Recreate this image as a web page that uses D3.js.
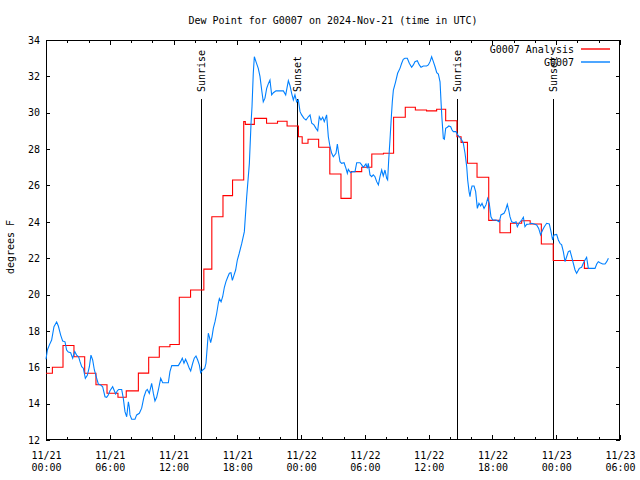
<!DOCTYPE html>
<html>
<head>
<meta charset="utf-8">
<script src="https://cdn.jsdelivr.net/npm/d3@7"></script>
<style>
  html, body { margin: 0; padding: 0; background: #fff; }
  svg { display: block; }
  text { font-family: "DejaVu Sans Mono", "Liberation Mono", monospace; font-size: 10px; fill: #000; }
</style>
</head>
<body>
<svg id="chart" width="640" height="480"></svg>
<script>
// ---------- DATA ----------
const chartTitle = "Dew Point for G0007 on 2024-Nov-21 (time in UTC)";
const yLabel = "degrees F";
const seriesNames = ["G0007 Analysis", "G0007"];
const seriesColors = ["#ff0000", "#0080ff"];

// hours since 11/21 00:00 UTC
const xTickHours = [0, 6, 12, 18, 24, 30, 36, 42, 48, 54];
const xTickDates = ["11/21", "11/21", "11/21", "11/21", "11/22", "11/22", "11/22", "11/22", "11/23", "11/23"];
const xTickTimes = ["00:00", "06:00", "12:00", "18:00", "00:00", "06:00", "12:00", "18:00", "00:00", "06:00"];
const yTicks = [12, 14, 16, 18, 20, 22, 24, 26, 28, 30, 32, 34];

const sunHours = [14.58, 23.64, 38.69, 47.72];
const sunLabels = ["Sunrise", "Sunset", "Sunrise", "Sunset"];

// Analysis (step values: value holds from hour until next hour)
const anaHours = [0.00, 0.60, 1.60, 2.63, 3.64, 4.70, 5.74, 6.77, 7.55, 8.69, 9.66, 10.66, 11.66,
  12.54, 13.60, 14.85, 15.60, 16.65, 17.55, 18.60, 18.75, 19.60, 20.75, 21.78, 22.68, 23.75,
  24.10, 24.65, 25.65, 26.70, 27.75, 28.70, 29.70, 30.65, 31.75, 32.70, 33.80, 34.75, 35.80,
  36.75, 37.60, 38.66, 39.05, 39.65, 40.55, 41.65, 42.70, 43.70, 44.75, 45.55, 46.60, 47.72,
  50.65, 51.00];
const anaValues = [15.67, 16.00, 17.20, 16.58, 15.67, 15.04, 14.57, 14.35, 14.70, 15.68, 16.55, 17.13, 17.25,
  19.85, 20.25, 21.40, 24.28, 25.44, 26.30, 29.51, 29.36, 29.69, 29.42, 29.53, 29.27, 28.68,
  28.32, 28.54, 28.10, 26.63, 25.29, 26.76, 27.00, 27.73, 27.77, 29.75, 30.30, 30.15, 30.10,
  30.19, 29.56, 28.68, 28.37, 27.22, 26.45, 24.08, 23.40, 23.92, 24.06, 23.88, 22.78, 21.87,
  21.44, 21.44];

// Observations
const obsHours = [0.00, 0.13, 0.31, 0.53, 0.75, 1.00, 1.16, 1.38, 1.57, 1.79, 1.94, 2.10, 2.32, 2.51, 2.70,
  2.88, 3.07, 3.20, 3.36, 3.51, 3.70, 3.89, 4.08, 4.23, 4.39, 4.55, 4.77, 4.92, 5.14, 5.33, 5.55,
  5.71, 5.86, 6.02, 6.27, 6.40, 6.55, 6.71, 6.84, 7.12, 7.27, 7.43, 7.59, 7.75, 7.84, 7.90, 8.06,
  8.37, 8.53, 8.78, 9.00, 9.22, 9.41, 9.53, 9.72, 9.94, 10.10, 10.25, 10.41, 10.57, 10.79, 10.98,
  11.51, 11.66, 11.83, 12.45, 12.67, 12.82, 12.98, 13.13, 13.30, 13.48, 13.61, 13.80, 13.95, 14.11,
  14.27, 14.43, 14.55, 14.74, 14.93, 15.05, 15.17, 15.27, 15.36, 15.49, 15.62, 15.74, 15.90, 16.06,
  16.21, 16.31, 16.47, 16.62, 16.78, 16.93, 17.09, 17.25, 17.40, 17.53, 17.68, 17.84, 18.00, 18.16,
  18.41, 18.66, 18.88, 19.13, 19.29, 19.38, 19.50, 19.60, 19.76, 19.97, 20.13, 20.29, 20.44, 20.60,
  20.76, 20.92, 21.07, 21.23, 21.39, 21.64, 22.33, 22.55, 22.80, 22.95, 23.11, 23.27, 23.42, 23.58,
  23.74, 23.90, 24.05, 24.27, 24.46, 24.68, 24.84, 25.00, 25.21, 25.40, 25.56, 25.71, 25.87, 26.03,
  26.18, 26.40, 26.56, 26.72, 26.88, 27.03, 27.28, 27.41, 27.53, 27.66, 27.81, 28.04, 28.22, 28.35,
  28.44, 28.66, 28.85, 29.07, 29.23, 29.54, 29.70, 29.85, 30.10, 30.23, 30.32, 30.48, 30.64, 30.79,
  30.95, 31.11, 31.27, 31.42, 31.58, 31.73, 31.89, 32.05, 32.14, 32.24, 32.36, 32.49, 32.58, 32.68,
  32.89, 33.08, 33.30, 33.46, 33.61, 33.77, 33.99, 34.18, 34.40, 34.56, 34.71, 34.93, 35.12, 35.28,
  35.50, 35.81, 35.97, 36.13, 36.28, 36.44, 36.60, 36.76, 36.91, 37.07, 37.17, 37.25, 37.38, 37.48,
  37.60, 37.76, 37.89, 38.07, 38.20, 38.32, 38.57, 38.73, 38.89, 39.11, 39.26, 39.42, 39.58, 39.67,
  39.80, 39.89, 39.95, 40.08, 40.27, 40.42, 40.58, 40.73, 40.89, 41.02, 41.21, 41.39, 41.55, 41.70,
  41.86, 42.02, 42.33, 42.65, 42.80, 43.09, 43.24, 43.40, 43.53, 43.65, 43.81, 44.03, 44.22, 44.34,
  44.53, 44.75, 44.91, 45.06, 45.22, 45.47, 45.69, 45.91, 46.16, 46.35, 46.53, 46.72, 46.88, 47.10,
  47.35, 47.51, 47.66, 47.79, 48.04, 48.20, 48.35, 48.51, 48.67, 48.83, 48.98, 49.14, 49.30, 49.45,
  49.61, 49.77, 49.92, 50.17, 50.39, 50.55, 50.71, 50.86, 51.02, 51.65, 51.81, 51.96, 52.12, 52.37,
  52.59, 52.75, 52.91];
const obsValues = [16.44, 16.95, 17.22, 17.50, 18.23, 18.49, 18.27, 17.77, 17.44, 17.40, 16.95, 16.84, 16.80, 16.50, 16.87,
  16.67, 16.58, 16.31, 16.03, 15.95, 15.39, 15.56, 16.03, 16.67, 16.40, 15.85, 15.39, 15.08, 15.03, 14.93, 14.38,
  14.35, 14.47, 14.71, 14.93, 14.75, 14.53, 14.71, 14.78, 14.78, 14.30, 13.56, 13.28, 14.10, 13.80, 13.38, 13.14,
  13.14, 13.38, 13.47, 13.75, 14.38, 14.71, 14.78, 14.56, 15.12, 14.56, 14.15, 14.35, 14.75, 15.39, 15.15,
  15.15, 15.76, 16.09, 16.09, 16.31, 16.50, 16.22, 16.44, 16.22, 15.94, 15.80, 16.22, 16.50, 16.62,
  16.40, 16.12, 15.70, 15.85, 15.94, 16.22, 17.13, 17.87, 17.69, 17.36, 17.69, 18.14, 18.51, 18.97,
  19.52, 19.78, 19.60, 19.88, 20.40, 20.71, 20.95, 21.17, 21.20, 20.78, 21.05, 21.35, 21.90, 22.23,
  22.80, 23.46, 25.38, 27.20, 29.42, 30.33, 32.17, 33.08, 32.80, 32.44, 32.00, 31.25, 30.60, 30.80,
  31.34, 31.60, 31.80, 30.98, 31.10, 31.20, 31.20, 30.98, 31.76, 31.50, 31.07, 30.70, 30.98, 30.60,
  30.70, 30.06, 29.88, 29.69, 29.60, 29.78, 29.88, 29.42, 29.33, 29.14, 29.01, 29.78, 29.60, 29.75,
  29.51, 29.88, 28.68, 28.13, 27.77, 27.58, 27.77, 28.28, 27.77, 27.31, 27.22, 27.25, 26.94, 26.67,
  26.89, 26.70, 26.76, 26.76, 27.25, 27.25, 27.13, 27.00, 27.18, 26.94, 27.22, 26.58, 26.48, 26.58,
  26.48, 26.21, 26.03, 26.48, 26.85, 26.52, 26.85, 26.39, 26.30, 27.40, 28.50, 29.78, 30.60, 31.25,
  31.70, 32.17, 32.44, 32.72, 32.94, 33.00, 33.00, 32.72, 32.50, 32.63, 32.81, 32.86, 32.63, 32.50,
  32.57, 32.57, 32.63, 32.81, 33.08, 32.81, 32.53, 32.20, 32.13, 31.70, 30.52, 29.69, 28.59, 28.54,
  29.14, 29.20, 29.27, 29.23, 29.05, 28.96, 28.96, 28.78, 28.68, 28.50, 28.32, 27.77, 27.03, 26.30,
  25.66, 25.38, 25.66, 25.97, 25.97, 25.66, 24.74, 25.02, 24.87, 25.02, 24.74, 24.93, 25.29, 25.02,
  24.28, 24.10, 24.10, 24.00, 24.38, 24.47, 24.65, 24.96, 24.65, 24.28, 24.00, 23.95, 24.00, 23.73,
  23.95, 24.10, 24.25, 23.73, 23.86, 23.88, 23.92, 23.88, 23.83, 23.64, 23.28, 23.55, 23.73, 23.92,
  23.88, 23.46, 23.00, 23.28, 23.31, 23.00, 22.82, 22.73, 22.36, 21.81, 22.08, 22.36, 22.41, 22.08,
  21.72, 21.35, 21.17, 21.44, 21.50, 21.72, 21.90, 22.05, 21.44, 21.44, 21.68, 21.81, 21.75, 21.68,
  21.68, 21.81, 22.00];

// ---------- CHART ----------
const svg = d3.select("#chart");
const L = 46, R = 620, T = 40, B = 440;
const x = d3.scaleLinear().domain([0, 54]).range([L, R]);
const y = d3.scaleLinear().domain([12, 34]).range([B, T]);

// title
svg.append("text").attr("x", (L + R) / 2).attr("y", 24)
  .attr("text-anchor", "middle").text(chartTitle);

// y label
svg.append("text").attr("transform", "translate(14,247) rotate(-90)")
  .attr("text-anchor", "middle").text(yLabel);

const axes = svg.append("g").attr("shape-rendering", "crispEdges");
const noDomain = g => g.select(".domain").remove();
const minorHours = d3.range(0, 55, 2).filter(h => h % 6 !== 0);

// bottom major + labels
const bottom = axes.append("g").attr("transform", `translate(0,${B})`)
  .call(d3.axisBottom(x).tickValues(xTickHours).tickSize(-5).tickSizeOuter(0).tickFormat(""))
  .call(noDomain);
bottom.selectAll(".tick").each(function (d, i) {
  const t = d3.select(this).append("text").attr("text-anchor", "middle").attr("fill", "#000");
  t.append("tspan").attr("x", 0).attr("y", 19).text(xTickDates[i]);
  t.append("tspan").attr("x", 0).attr("y", 31).text(xTickTimes[i]);
});
// bottom minor
axes.append("g").attr("transform", `translate(0,${B})`)
  .call(d3.axisBottom(x).tickValues(minorHours).tickSize(-3).tickSizeOuter(0).tickFormat(""))
  .call(noDomain);
// top major/minor
axes.append("g").attr("transform", `translate(0,${T})`)
  .call(d3.axisTop(x).tickValues(xTickHours).tickSize(-5).tickSizeOuter(0).tickFormat(""))
  .call(noDomain);
axes.append("g").attr("transform", `translate(0,${T})`)
  .call(d3.axisTop(x).tickValues(minorHours).tickSize(-3).tickSizeOuter(0).tickFormat(""))
  .call(noDomain);
// left
axes.append("g").attr("transform", `translate(${L},0)`)
  .call(d3.axisLeft(y).tickValues(yTicks).tickSize(-4).tickSizeOuter(0).tickPadding(6).tickFormat(d3.format("d")))
  .call(noDomain)
  .call(g => g.selectAll("text").attr("fill", "#000"));
// right
axes.append("g").attr("transform", `translate(${R},0)`)
  .call(d3.axisRight(y).tickValues(yTicks).tickSize(-4).tickSizeOuter(0).tickFormat(""))
  .call(noDomain);
axes.selectAll(".tick line").attr("stroke", "#000");
axes.selectAll("g").attr("font-family", null).attr("font-size", null);

// frame
axes.append("rect").attr("x", x(0) + 0.5).attr("y", y(34) + 0.5)
  .attr("width", x(54) - x(0) - 1).attr("height", y(12) - y(34) - 1)
  .attr("fill", "none").attr("stroke", "#000");

// sunrise / sunset
const sun = svg.append("g");
sunHours.forEach((h, i) => {
  sun.append("line").attr("x1", Math.round(x(h)) + 0.5).attr("x2", Math.round(x(h)) + 0.5)
    .attr("y1", 99).attr("y2", B).attr("stroke", "#000").attr("shape-rendering", "crispEdges");
  sun.append("text")
    .attr("transform", `translate(${Math.round(x(h)) + 4},92) rotate(-90)`)
    .attr("text-anchor", "start").text(sunLabels[i]);
});

// analysis line
const anaLine = d3.line().x((d, i) => x(anaHours[i])).y(d => y(d)).curve(d3.curveStepAfter);
svg.append("path").datum(anaValues).attr("d", anaLine)
  .attr("fill", "none").attr("stroke", seriesColors[0]).attr("stroke-width", 1.1);

// obs line
const obsLine = d3.line().x((d, i) => x(obsHours[i])).y(d => y(d));
svg.append("path").datum(obsValues).attr("d", obsLine)
  .attr("fill", "none").attr("stroke", seriesColors[1]).attr("stroke-width", 1.1);

// legend
const legend = svg.append("g").attr("class", "legend");
seriesNames.forEach((name, i) => {
  const yy = 49 + i * 13;
  legend.append("text").attr("x", 574).attr("y", yy + 4).attr("text-anchor", "end").text(name);
  legend.append("path")
    .attr("d", d3.line()([[581, yy], [610, yy]]))
    .style("stroke", seriesColors[i]).style("stroke-width", "1.4px").style("fill", "none");
});
</script>
</body>
</html>
